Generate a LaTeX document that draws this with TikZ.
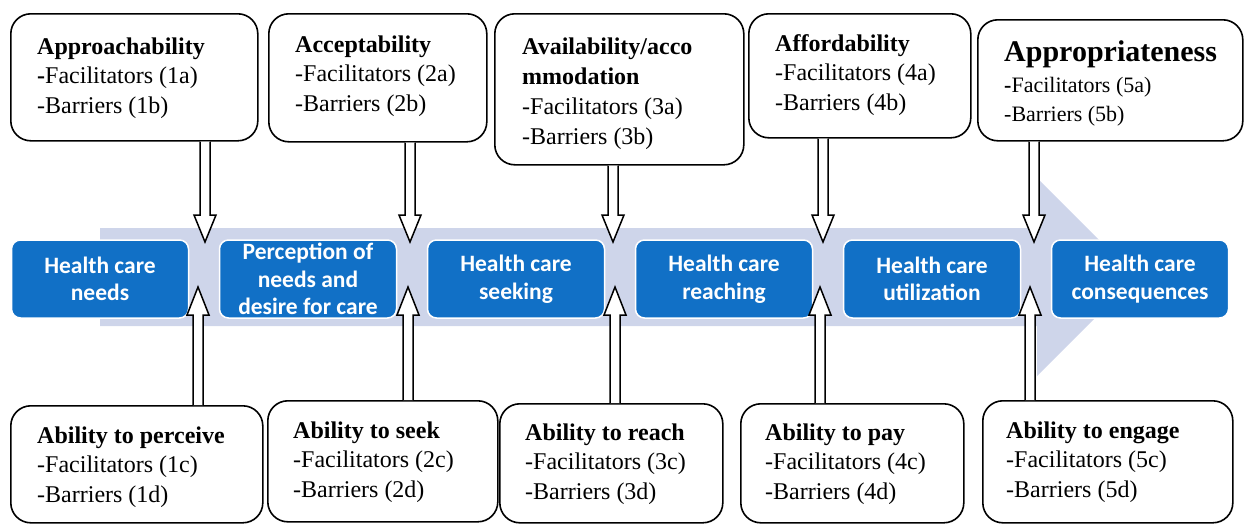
\documentclass[tikz,border=0pt]{standalone}
\usepackage{fontspec}
\setmainfont{Liberation Serif}
\newfontfamily\stagefont{Carlito}
\usetikzlibrary{calc,positioning}

\definecolor{stageblue}{RGB}{17,112,198}
\definecolor{bandblue}{RGB}{206,213,234}

% hollow block arrows: shaft from a box edge to a tip coordinate
\newcommand{\hollowdown}[2]{%
  \draw[hollow] ($(#1.south -| #2)+(-5,0)$) -- ($(#2)+(-5,-27)$) -- ($(#2)+(-11,-27)$)
    -- (#2) -- ($(#2)+(11,-27)$) -- ($(#2)+(5,-27)$) -- ($(#1.south -| #2)+(5,0)$);
}
\newcommand{\hollowup}[2]{%
  \draw[hollow] ($(#1.north -| #2)+(-5,0)$) -- ($(#2)+(-5,28)$) -- ($(#2)+(-11,28)$)
    -- (#2) -- ($(#2)+(11,28)$) -- ($(#2)+(5,28)$) -- ($(#1.north -| #2)+(5,0)$);
}

\tikzset{
  dimbox/.style={draw=black, line width=1.6pt, rounded corners=20pt, fill=white,
    anchor=north west, inner sep=0pt},
  % text blocks sit on the baseline of their last line
  dimtext/.style={anchor=base west, inner sep=0pt, align=left,
    font=\fontsize{24}{29.5}\selectfont},
  stage/.style={fill=stageblue, draw=white, line width=1.5pt, rounded corners=9pt,
    minimum width=177pt, minimum height=78pt, inner sep=0pt, outer sep=0pt,
    text=white, align=center, font=\stagefont\bfseries\fontsize{23.5}{27.5}\selectfont},
  hollow/.style={draw=black, line width=1.5pt, fill=white, line join=miter}
}

\begin{document}
\begin{tikzpicture}[x=1pt, y=-1pt]
  \useasboundingbox (0,0) rectangle (1244,523);
  \clip (0,0) rectangle (1244,523);

  % Big pathway arrow behind the stages
  \fill[bandblue] (100,228) -- (1037,228) -- (1037,178) -- (1136,277)
    -- (1037,376) -- (1037,326) -- (100,326) -- cycle;

  % Stages along the pathway
  \node[stage] (need) at (100,279) {Health care\\needs};
  \node[stage, right=31pt of need] (percept) {Perception of\\needs and\\desire for care};
  \node[stage, right=31pt of percept] (seek) {Health care\\seeking};
  \node[stage, right=31pt of seek] (reach) {Health care\\reaching};
  \node[stage, right=31pt of reach] (util) {Health care\\utilization};
  \node[stage, right=31pt of util] (conseq) {Health care\\consequences};

  % Service side (top)
  \node[dimbox, minimum width=247pt, minimum height=127pt] (approach) at (10,13) {};
  \node[dimbox, minimum width=218pt, minimum height=128pt] (accept) at (268,13) {};
  \node[dimbox, minimum width=249pt, minimum height=151pt] (avail) at (494,13) {};
  \node[dimbox, minimum width=222pt, minimum height=124pt] (afford) at (748,13) {};
  \node[dimbox, minimum width=265pt, minimum height=121pt] (appropr) at (977,19) {};

  \node[dimtext] at (37,113) {\textbf{Approachability}\\\textbf{-}Facilitators (1a)\\-Barriers (1b)};
  \node[dimtext] at (295,111) {\textbf{Acceptability}\\-Facilitators (2a)\\-Barriers (2b)};
  \node[dimtext, font=\fontsize{24}{30}\selectfont] at (522,144)
    {\textbf{Availability/acco}\\\textbf{mmodation}\\-Facilitators (3a)\\-Barriers (3b)};
  \node[dimtext] at (775,110) {\textbf{Affordability}\\-Facilitators (4a)\\-Barriers (4b)};
  \node[dimtext, font=\fontsize{22}{28.5}\selectfont] at (1004,121)
    {{\fontsize{30}{30}\selectfont\bfseries Appropriateness}\\[3pt]\textbf{-}Facilitators (5a)\\-Barriers (5b)};

  % Population side (bottom)
  \node[dimbox, minimum width=252pt, minimum height=117pt] (perceive) at (10,405) {};
  \node[dimbox, minimum width=230pt, minimum height=121pt] (seekab) at (267,400) {};
  \node[dimbox, minimum width=223pt, minimum height=119pt] (reachab) at (499,403) {};
  \node[dimbox, minimum width=223pt, minimum height=119pt] (pay) at (740,403) {};
  \node[dimbox, minimum width=250pt, minimum height=122pt] (engage) at (982,400) {};

  \node[dimtext] at (37,502) {\textbf{Ability to perceive}\\-Facilitators (1c)\\-Barriers (1d)};
  \node[dimtext] at (293,497) {\textbf{Ability to seek}\\-Facilitators (2c)\\-Barriers (2d)};
  \node[dimtext] at (525,499) {\textbf{Ability to reach}\\-Facilitators (3c)\\-Barriers (3d)};
  \node[dimtext] at (765,499) {\textbf{Ability to pay}\\-Facilitators (4c)\\-Barriers (4d)};
  \node[dimtext] at (1006,497) {\textbf{Ability to engage}\\-Facilitators (5c)\\-Barriers (5d)};

  % Arrow tips in the gaps between stages
  \coordinate (d1) at (205,242);
  \coordinate (d2) at (410,242);
  \coordinate (d3) at (613,242);
  \coordinate (d4) at (823,242);
  \coordinate (d5) at (1034,242);
  \coordinate (u1) at (198,287);
  \coordinate (u2) at (408,287);
  \coordinate (u3) at (615,287);
  \coordinate (u4) at (820,287);
  \coordinate (u5) at (1030,287);

  \hollowdown{approach}{d1}
  \hollowdown{accept}{d2}
  \hollowdown{avail}{d3}
  \hollowdown{afford}{d4}
  \hollowdown{appropr}{d5}

  \hollowup{perceive}{u1}
  \hollowup{seekab}{u2}
  \hollowup{reachab}{u3}
  \hollowup{pay}{u4}
  \hollowup{engage}{u5}
\end{tikzpicture}
\end{document}
